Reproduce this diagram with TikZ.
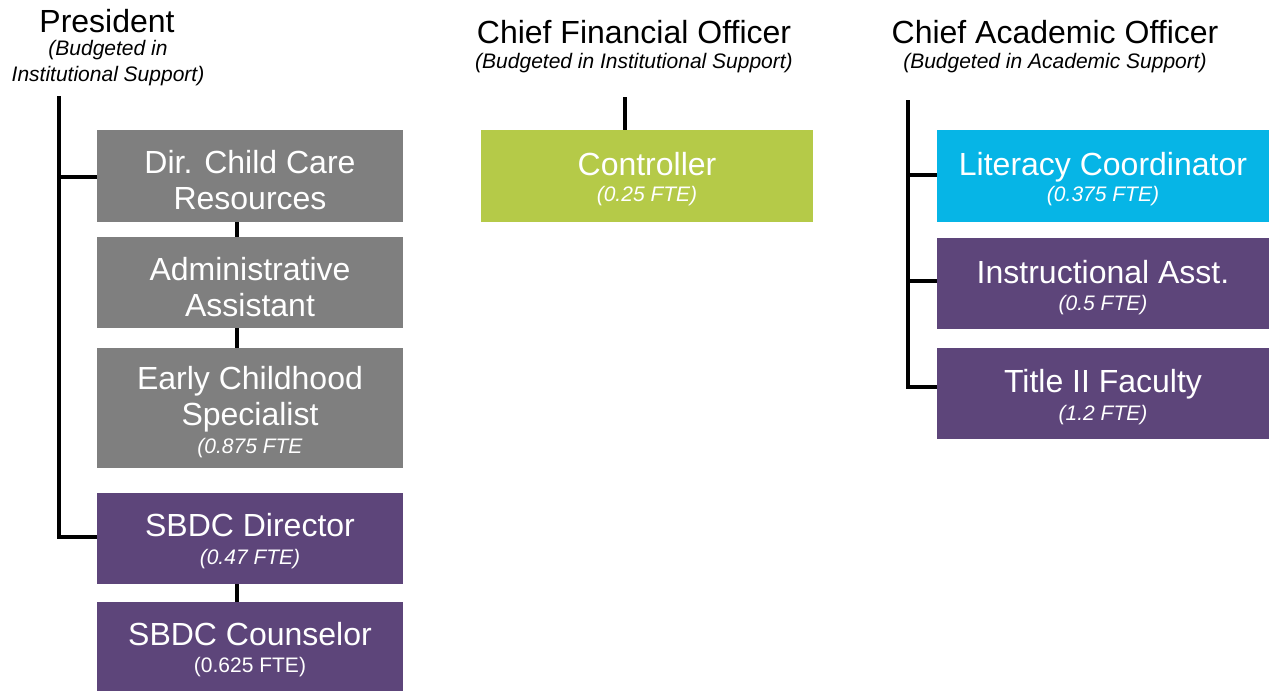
\documentclass[tikz,border=0pt]{standalone}
\usepackage{fontspec}
\setmainfont{Liberation Sans}
\definecolor{boxgray}{RGB}{127,127,127}
\definecolor{boxpurple}{RGB}{93,69,122}
\definecolor{boxgreen}{RGB}{181,202,72}
\definecolor{boxcyan}{RGB}{6,181,230}
\begin{document}
\begin{tikzpicture}[x=1pt,y=-1pt,
  box/.style={anchor=north west,inner sep=0pt,outer sep=0pt,draw=none},
  head/.style={anchor=base,inner sep=0pt,font=\fontsize{32}{36}\selectfont},
  sub/.style={anchor=base,inner sep=0pt,font=\fontsize{21}{25}\selectfont\itshape},
  main/.style={anchor=base,inner sep=0pt,text=white,font=\fontsize{32}{36}\selectfont},
  fte/.style={anchor=base,inner sep=0pt,text=white,font=\fontsize{21}{25}\selectfont\itshape},
  fteup/.style={anchor=base,inner sep=0pt,text=white,font=\fontsize{21}{25}\selectfont},
  link/.style={line width=3.4pt,line join=miter}]
\useasboundingbox (0,0) rectangle (1269,691);

% headings
\node[head] (pres) at (107,32) {President};
\node[sub] (pres-s1) at (108,55) {(Budgeted in};
\node[sub] (pres-s2) at (108,81) {Institutional Support)};
\node[head] (cfo) at (634,43) {Chief Financial Officer};
\node[sub] (cfo-s) at (634,68) {(Budgeted in Institutional Support)};
\node[head] (cao) at (1055,43) {Chief Academic Officer};
\node[sub] (cao-s) at (1055,68) {(Budgeted in Academic Support)};

% President column
\node[box,fill=boxgray,minimum width=306pt,minimum height=92pt] (dir) at (97,130) {};
\node[main] (dir-t1) at (250,173.5) {Dir. Child Care};
\node[main] (dir-t2) at (250,209.5) {Resources};

\node[box,fill=boxgray,minimum width=306pt,minimum height=91pt] (adm) at (97,237) {};
\node[main] (adm-t1) at (250,280) {Administrative};
\node[main] (adm-t2) at (250,316) {Assistant};

\node[box,fill=boxgray,minimum width=306pt,minimum height=120pt] (ecs) at (97,348) {};
\node[main] (ecs-t1) at (250,389) {Early Childhood};
\node[main] (ecs-t2) at (250,425.5) {Specialist};
\node[fte] (ecs-f) at (250,453) {(0.875 FTE};

\node[box,fill=boxpurple,minimum width=306pt,minimum height=91pt] (sbd) at (97,493) {};
\node[main] (sbd-t) at (250,536.5) {SBDC Director};
\node[fte] (sbd-f) at (250,564) {(0.47 FTE)};

\node[box,fill=boxpurple,minimum width=306pt,minimum height=89pt] (sbc) at (97,602) {};
\node[main] (sbc-t) at (250,645.5) {SBDC Counselor};
\node[fteup] (sbc-f) at (250,672) {(0.625 FTE)};

% CFO column
\node[box,fill=boxgreen,minimum width=332pt,minimum height=92pt] (ctl) at (481,130) {};
\node[main] (ctl-t) at (647,175) {Controller};
\node[fte] (ctl-f) at (647,201.5) {(0.25 FTE)};

% CAO column
\node[box,fill=boxcyan,minimum width=332pt,minimum height=92pt] (lit) at (937,130) {};
\node[main] (lit-t) at (1103,175) {Literacy Coordinator};
\node[fte] (lit-f) at (1103,201.5) {(0.375 FTE)};

\node[box,fill=boxpurple,minimum width=332pt,minimum height=91pt] (ins) at (937,238) {};
\node[main] (ins-t) at (1103,283) {Instructional Asst.};
\node[fte] (ins-f) at (1103,310) {(0.5 FTE)};

\node[box,fill=boxpurple,minimum width=332pt,minimum height=91pt] (tit) at (937,348) {};
\node[main] (tit-t) at (1103,392.5) {Title II Faculty};
\node[fte] (tit-f) at (1103,420) {(1.2 FTE)};

% connectors
\coordinate (presline) at (59,96);
\coordinate (stem) at (237,0);
\coordinate (cfoline) at (625,97);
\coordinate (caoline) at (908,100);

\draw[link] (presline) |- (sbd.west |- 0,537);
\draw[link] (presline |- 0,177) -- (dir.west |- 0,177);
\draw[link] (stem |- dir.south) -- (stem |- adm.north);
\draw[link] (stem |- adm.south) -- (stem |- ecs.north);
\draw[link] (stem |- sbd.south) -- (stem |- sbc.north);

\draw[link] (cfoline) -- (cfoline |- ctl.north);

\draw[link] (caoline) |- (tit.west |- 0,387);
\draw[link] (caoline |- 0,175) -- (lit.west |- 0,175);
\draw[link] (caoline |- 0,281) -- (ins.west |- 0,281);
\end{tikzpicture}
\end{document}
